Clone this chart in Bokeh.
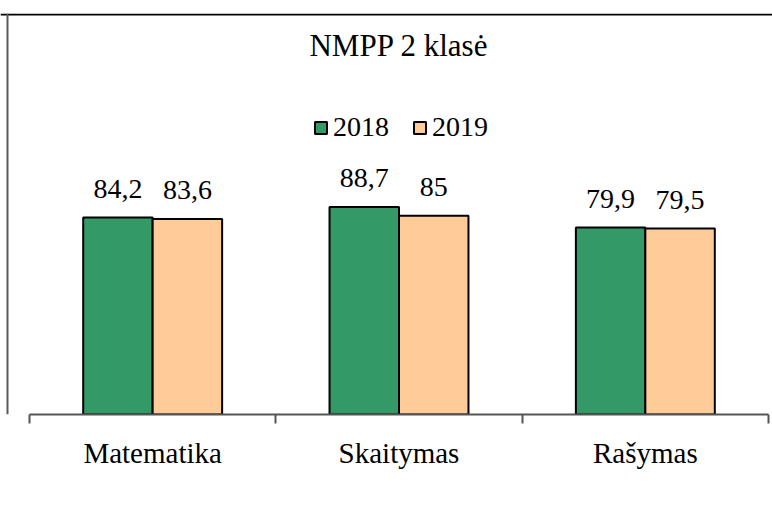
from bokeh.plotting import figure
from bokeh.models import (ColumnDataSource, Range1d, FixedTicker, Legend, LegendItem,
                          Label, Span)
from bokeh.core.properties import value
from bokeh.embed import file_html
from bokeh.resources import INLINE

# ---- data ----
title_text = "NMPP 2 klasė"
categories = ["Matematika", "Skaitymas", "Rašymas"]
years = ["2018", "2019"]
values_2018 = [84.2, 88.7, 79.9]
values_2019 = [83.6, 85.0, 79.5]
colors = ["#339966", "#FFCC99"]

FONT = "Liberation Serif"

cat_pos = [1, 2, 3]
bar_w = 0.282
off = bar_w / 2

p = figure(width=772, height=507, output_backend="svg", toolbar_location=None,
           x_range=Range1d(0.3823, 3.5162), y_range=Range1d(0, 171.4),
           y_axis_location=None, min_border_left=0, min_border_right=0,
           min_border_top=13, min_border_bottom=93)
p.outline_line_color = None
p.xgrid.visible = False
p.ygrid.visible = False
p.background_fill_color = "white"
p.border_fill_color = "white"

renderers = []
for i, (yr, vals, col) in enumerate(zip(years, [values_2018, values_2019], colors)):
    dx = -off if i == 0 else off
    src = ColumnDataSource(dict(
        x=[c + dx for c in cat_pos],
        top=vals,
        lab=[f"{v:g}".replace(".", ",") for v in vals],
    ))
    r = p.vbar(x="x", top="top", bottom=0, width=bar_w, source=src,
               fill_color=col, line_color="black", line_width=2)
    renderers.append(r)
    p.text(x="x", y="top", text="lab", source=src, text_align="center",
           text_baseline="alphabetic", y_offset=-29,
           text_font=value(FONT), text_font_size="28px", text_color="black")

# x axis: labels at centers, tick marks at boundaries
ax = p.xaxis[0]
ax.ticker = FixedTicker(ticks=cat_pos, minor_ticks=[0.5, 1.5, 2.5, 3.5])
ax.major_label_overrides = {c: n for c, n in zip(cat_pos, categories)}
ax.bounds = (0.5, 3.5)
ax.major_tick_out = 0
ax.major_tick_in = 0
ax.minor_tick_in = 0
ax.minor_tick_out = 9
ax.minor_tick_line_color = "#555555"
ax.minor_tick_line_width = 2
ax.axis_line_color = "#555555"
ax.axis_line_width = 2
ax.major_label_standoff = 13
ax.major_label_text_font = FONT
ax.major_label_text_font_size = "29px"
ax.major_label_text_color = "black"

legend = Legend(items=[LegendItem(label=yr, renderers=[r]) for yr, r in zip(years, renderers)],
                orientation="horizontal", location=(313, 271),
                glyph_width=15, glyph_height=15, label_standoff=5, spacing=23,
                padding=0, margin=0, border_line_color=None, background_fill_alpha=0,
                label_text_font=FONT, label_text_font_size="28px",
                label_text_color="black")
p.add_layout(legend)

p.add_layout(Label(x=2, y=157.8, text=title_text, text_align="center",
                   text_baseline="alphabetic", text_font=FONT,
                   text_font_size="31px", text_color="black"))

# chart-area border (top and left visible)
p.add_layout(Span(location=171.0, dimension="width", line_color="black", line_width=2))
p.add_layout(Span(location=0.4107, dimension="height", line_color="#595959", line_width=2))

open("out.html", "w").write(file_html(p, INLINE))
